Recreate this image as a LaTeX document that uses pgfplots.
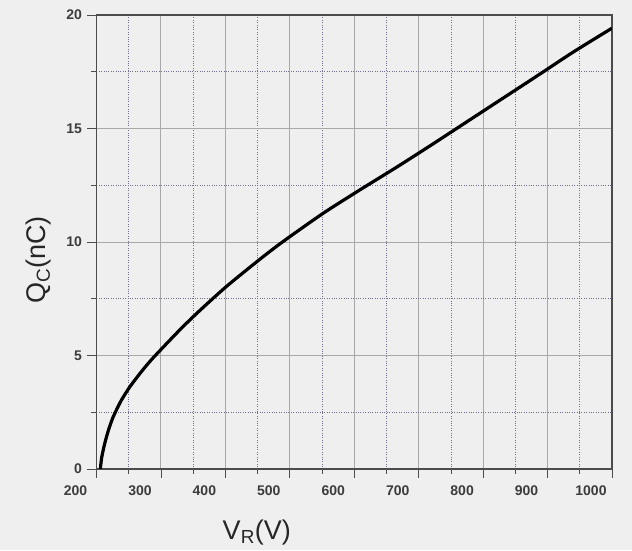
\documentclass[border=0pt]{standalone}
\usepackage{pgfplots}
\pgfplotsset{compat=1.18}
\usepackage{fontspec}
\setmainfont{Liberation Sans}

\definecolor{bg}{HTML}{EFEFEF}
\definecolor{majgrid}{HTML}{A8A8A8}
\definecolor{mingrid}{HTML}{70708C}
\definecolor{ticktxt}{HTML}{3C3C3C}

\begin{document}
\begin{tikzpicture}
% page background (632 x 550)
\fill[bg] (-96.5pt,-81pt) rectangle (535.5pt,469pt);
\begin{axis}[
    scale only axis,
    width=515.5pt,
    height=454pt,
    xmin=200, xmax=1000,
    ymin=0, ymax=20,
    xtick={200,300,...,1000},
    ytick={0,5,...,20},
    minor xtick={250,350,...,950},
    minor ytick={2.5,7.5,12.5,17.5},
    xtick pos=bottom,
    ytick pos=left,
    tick align=outside,
    major tick length=9pt,
    minor tick length=5pt,
    tick style={black!70, line width=0.8pt},
    grid=both,
    major grid style={majgrid, line width=1pt},
    minor grid style={mingrid, dotted, line width=0.8pt},
    axis line style={black!70, line width=1.3pt},
    /pgf/number format/assume math mode=true,
    /pgf/number format/1000 sep={},
    ticklabel style={font=\fontsize{14}{16}\selectfont\bfseries, text=ticktxt},
    xticklabel style={xshift=-21pt, yshift=-4pt},
    yticklabel style={xshift=-2pt},
    xlabel={V\textsubscript{R}(V)},
    ylabel={Q\textsubscript{C}(nC)},
    every axis x label/.style={at={(axis description cs:0.311,0)}, anchor=base, yshift=-70pt, font=\fontsize{27}{30}\selectfont, text=black!85},
    every axis y label/.style={at={(axis description cs:-0.113,0.46)}, anchor=center, rotate=90, font=\fontsize{27}{30}\selectfont, text=black!85},
]
\addplot[black, line width=3.2pt, smooth, tension=0.4] coordinates {
    (206,0) (208,0.5) (213,1.15) (219,1.75) (226,2.3) (238,3.0)
    (252,3.63) (270,4.3) (288,4.9) (330,6.15) (361,7.0) (402,8.05)
    (454,9.25) (490,10.03) (552,11.27) (609,12.3) (666,13.3) (720,14.28)
    (775,15.3) (830,16.32) (885,17.34) (940,18.37) (1000,19.42)
};
\end{axis}
\end{tikzpicture}
\end{document}
